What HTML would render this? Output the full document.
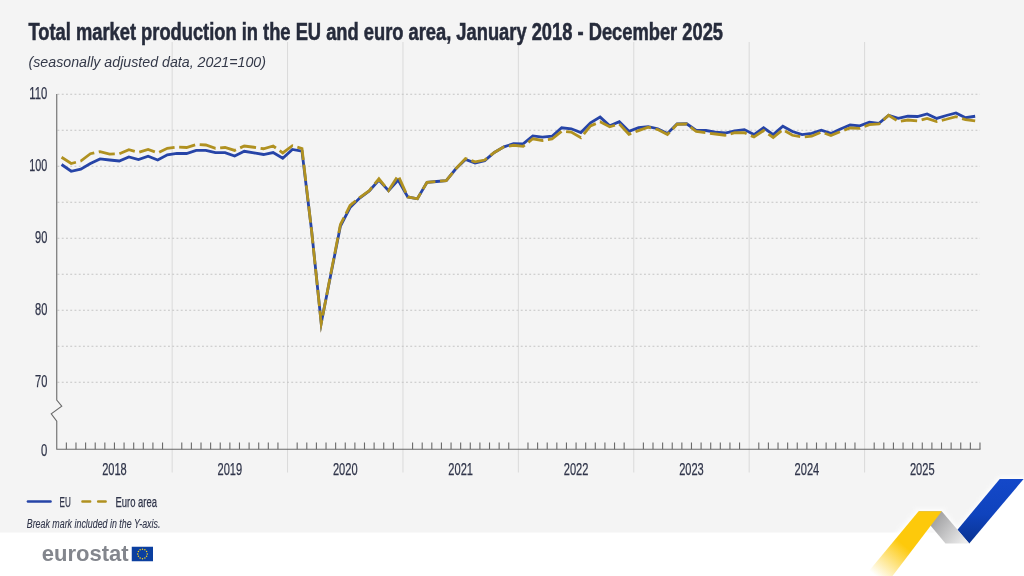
<!DOCTYPE html>
<html lang="en"><head><meta charset="utf-8">
<title>Total market production in the EU and euro area</title>
<style>
html,body{margin:0;padding:0;background:#fff;}
body{width:1024px;height:576px;overflow:hidden;}
svg{display:block;font-family:"Liberation Sans",sans-serif;}
</style></head><body>
<svg width="1024" height="576" viewBox="0 0 1024 576">
<defs>
<linearGradient id="gb" x1="0" y1="0" x2="0" y2="1"><stop offset="0" stop-color="#1448c9"/><stop offset="0.55" stop-color="#0f43bd"/><stop offset="1" stop-color="#0a3391"/></linearGradient>
<linearGradient id="gf" gradientUnits="userSpaceOnUse" x1="930" y1="520" x2="962" y2="545"><stop offset="0" stop-color="#9c9c9e"/><stop offset="1" stop-color="#ececec"/></linearGradient>
<linearGradient id="gy" gradientUnits="userSpaceOnUse" x1="905" y1="546" x2="878" y2="578"><stop offset="0" stop-color="#fdc90b"/><stop offset="1" stop-color="#fdc90b" stop-opacity="0"/></linearGradient>
</defs>
<rect x="0" y="0" width="1024" height="576" fill="#ffffff"/>
<polygon points="0,0 1024,0 1024,477.7 978.3,532.5 0,532.5" fill="#f4f4f4"/>

<g stroke="#dadada" stroke-width="1" fill="none">
<line x1="172.15" y1="42" x2="172.15" y2="472.5"/>
<line x1="287.56" y1="42" x2="287.56" y2="472.5"/>
<line x1="402.96" y1="42" x2="402.96" y2="472.5"/>
<line x1="518.37" y1="42" x2="518.37" y2="472.5"/>
<line x1="633.77" y1="42" x2="633.77" y2="472.5"/>
<line x1="749.17" y1="42" x2="749.17" y2="472.5"/>
<line x1="864.58" y1="42" x2="864.58" y2="472.5"/>
</g>
<g stroke="#c4c4c4" stroke-width="1" stroke-dasharray="1.9 2.35" fill="none">
<line x1="57.5" y1="94.25" x2="980" y2="94.25"/>
<line x1="57.5" y1="130.25" x2="980" y2="130.25"/>
<line x1="57.5" y1="166.25" x2="980" y2="166.25"/>
<line x1="57.5" y1="202.25" x2="980" y2="202.25"/>
<line x1="57.5" y1="238.25" x2="980" y2="238.25"/>
<line x1="57.5" y1="274.25" x2="980" y2="274.25"/>
<line x1="57.5" y1="310.25" x2="980" y2="310.25"/>
<line x1="57.5" y1="346.25" x2="980" y2="346.25"/>
<line x1="57.5" y1="382.25" x2="980" y2="382.25"/>
</g>
<g stroke="#6a6a6a" stroke-width="1.1" fill="none">
<path d="M56.75,94 V400 L61.75,406.25 L51.25,413.75 L56.75,421.25 V449.25 H980.5"/>
<path d="M66.37,442.5V449.25M75.98,442.5V449.25M85.60,442.5V449.25M95.22,442.5V449.25M104.84,442.5V449.25M114.45,442.5V449.25M124.07,442.5V449.25M133.69,442.5V449.25M143.30,442.5V449.25M152.92,442.5V449.25M162.54,442.5V449.25M181.77,442.5V449.25M191.39,442.5V449.25M201.01,442.5V449.25M210.62,442.5V449.25M220.24,442.5V449.25M229.86,442.5V449.25M239.47,442.5V449.25M249.09,442.5V449.25M258.71,442.5V449.25M268.32,442.5V449.25M277.94,442.5V449.25M297.18,442.5V449.25M306.79,442.5V449.25M316.41,442.5V449.25M326.03,442.5V449.25M335.64,442.5V449.25M345.26,442.5V449.25M354.88,442.5V449.25M364.49,442.5V449.25M374.11,442.5V449.25M383.73,442.5V449.25M393.35,442.5V449.25M412.58,442.5V449.25M422.20,442.5V449.25M431.81,442.5V449.25M441.43,442.5V449.25M451.05,442.5V449.25M460.66,442.5V449.25M470.28,442.5V449.25M479.90,442.5V449.25M489.52,442.5V449.25M499.13,442.5V449.25M508.75,442.5V449.25M527.98,442.5V449.25M537.60,442.5V449.25M547.22,442.5V449.25M556.83,442.5V449.25M566.45,442.5V449.25M576.07,442.5V449.25M585.69,442.5V449.25M595.30,442.5V449.25M604.92,442.5V449.25M614.54,442.5V449.25M624.15,442.5V449.25M643.39,442.5V449.25M653.00,442.5V449.25M662.62,442.5V449.25M672.24,442.5V449.25M681.86,442.5V449.25M691.47,442.5V449.25M701.09,442.5V449.25M710.71,442.5V449.25M720.32,442.5V449.25M729.94,442.5V449.25M739.56,442.5V449.25M758.79,442.5V449.25M768.41,442.5V449.25M778.03,442.5V449.25M787.64,442.5V449.25M797.26,442.5V449.25M806.88,442.5V449.25M816.49,442.5V449.25M826.11,442.5V449.25M835.73,442.5V449.25M845.34,442.5V449.25M854.96,442.5V449.25M874.20,442.5V449.25M883.81,442.5V449.25M893.43,442.5V449.25M903.05,442.5V449.25M912.66,442.5V449.25M922.28,442.5V449.25M931.90,442.5V449.25M941.51,442.5V449.25M951.13,442.5V449.25M960.75,442.5V449.25M970.37,442.5V449.25M979.98,442.5V449.25"/>
</g>
<polyline points="61.56,164.50 71.18,171.25 80.79,169.10 90.41,163.50 100.03,158.90 109.64,160.00 119.26,161.00 128.88,157.00 138.49,159.50 148.11,156.25 157.73,160.00 167.35,154.75 176.96,153.40 186.58,153.50 196.20,150.40 205.81,150.40 215.43,152.60 225.05,152.60 234.66,156.00 244.28,151.25 253.90,152.90 263.52,154.50 273.13,152.60 282.75,158.20 292.37,149.40 301.98,151.20 311.60,230.50 321.22,323.00 330.83,274.50 340.45,226.00 350.07,207.50 359.69,198.00 369.30,191.00 378.92,180.00 388.54,190.60 398.15,180.00 407.77,196.90 417.39,198.75 427.00,182.25 436.62,181.50 446.24,180.60 455.86,168.75 465.47,159.40 475.09,163.10 484.71,160.60 494.32,152.50 503.94,146.90 513.56,143.70 523.17,143.90 532.79,135.90 542.41,137.10 552.03,136.25 561.64,127.75 571.26,128.75 580.88,132.50 590.49,122.75 600.11,117.10 609.73,125.90 619.34,121.75 628.96,131.25 638.58,127.60 648.20,126.75 657.81,128.75 667.43,133.40 677.05,124.00 686.66,123.75 696.28,130.50 705.90,130.50 715.51,132.10 725.13,133.00 734.75,130.90 744.37,129.60 753.98,134.60 763.60,127.75 773.22,134.60 782.83,126.25 792.45,131.50 802.07,134.60 811.68,133.40 821.30,130.25 830.92,133.40 840.54,129.00 850.15,125.00 859.77,125.80 869.39,122.10 879.00,123.40 888.62,115.25 898.24,118.40 907.85,116.25 917.47,116.50 927.09,114.00 936.71,118.40 946.32,115.50 955.94,113.00 965.56,117.75 975.17,116.25" fill="none" stroke="#2644a7" stroke-width="2.8" stroke-linejoin="miter" stroke-miterlimit="10" stroke-linecap="butt"/>
<polyline points="61.56,157.25 71.18,163.50 80.79,161.00 90.41,153.75 100.03,151.60 109.64,154.10 119.26,153.75 128.88,149.75 138.49,152.25 148.11,149.50 157.73,152.90 167.35,148.25 176.96,147.00 186.58,147.50 196.20,144.50 205.81,145.00 215.43,148.25 225.05,147.50 234.66,150.40 244.28,146.00 253.90,147.25 263.52,148.75 273.13,146.00 282.75,152.90 292.37,145.70 301.98,148.50 311.60,231.00 321.22,323.50 330.83,273.50 340.45,224.50 350.07,205.50 359.69,197.50 369.30,190.60 378.92,178.75 388.54,190.60 398.15,175.60 407.77,196.90 417.39,198.75 427.00,182.25 436.62,181.50 446.24,180.60 455.86,168.75 465.47,158.50 475.09,161.90 484.71,160.00 494.32,152.50 503.94,146.90 513.56,145.25 523.17,146.40 532.79,138.75 542.41,140.50 552.03,139.00 561.64,131.25 571.26,132.10 580.88,137.75 590.49,125.90 600.11,121.75 609.73,126.75 619.34,124.00 628.96,134.25 638.58,130.60 648.20,127.10 657.81,129.60 667.43,134.60 677.05,124.25 686.66,124.00 696.28,131.50 705.90,132.75 715.51,134.00 725.13,135.25 734.75,132.75 744.37,132.75 753.98,137.00 763.60,130.50 773.22,137.50 782.83,129.60 792.45,135.25 802.07,137.10 811.68,136.25 821.30,132.10 830.92,135.50 840.54,131.50 850.15,128.00 859.77,128.40 869.39,124.60 879.00,124.00 888.62,115.25 898.24,121.50 907.85,120.00 917.47,120.90 927.09,118.40 936.71,121.50 946.32,119.25 955.94,116.75 965.56,119.60 975.17,120.90" fill="none" stroke="#b09120" stroke-width="2.8" stroke-linejoin="miter" stroke-miterlimit="10" stroke-linecap="butt" stroke-dasharray="16.4 4.6"/>
<g fill="#30354a" stroke="#30354a" stroke-width="0.25">
<text x="28.5" y="40" font-size="24" font-weight="bold" fill="#262b3b" stroke="#262b3b" stroke-width="0.55" textLength="694.5" lengthAdjust="spacingAndGlyphs">Total market production in the EU and euro area, January 2018 - December 2025</text>
<text x="28.5" y="66.75" font-size="15" font-style="italic" stroke="none" fill="#343949" textLength="237.5" lengthAdjust="spacingAndGlyphs">(seasonally adjusted data, 2021=100)</text>
<text x="29.30" y="99.15" font-size="16" textLength="18.0" lengthAdjust="spacingAndGlyphs">110</text>
<text x="29.30" y="171.15" font-size="16" textLength="18.0" lengthAdjust="spacingAndGlyphs">100</text>
<text x="35.00" y="243.15" font-size="16" textLength="12.3" lengthAdjust="spacingAndGlyphs">90</text>
<text x="35.00" y="315.15" font-size="16" textLength="12.3" lengthAdjust="spacingAndGlyphs">80</text>
<text x="35.00" y="387.15" font-size="16" textLength="12.3" lengthAdjust="spacingAndGlyphs">70</text>
<text x="41.00" y="455.70" font-size="16" textLength="6.3" lengthAdjust="spacingAndGlyphs">0</text>
<text x="102.15" y="474.9" font-size="16" textLength="24.6" lengthAdjust="spacingAndGlyphs">2018</text>
<text x="217.56" y="474.9" font-size="16" textLength="24.6" lengthAdjust="spacingAndGlyphs">2019</text>
<text x="332.96" y="474.9" font-size="16" textLength="24.6" lengthAdjust="spacingAndGlyphs">2020</text>
<text x="448.36" y="474.9" font-size="16" textLength="24.6" lengthAdjust="spacingAndGlyphs">2021</text>
<text x="563.77" y="474.9" font-size="16" textLength="24.6" lengthAdjust="spacingAndGlyphs">2022</text>
<text x="679.17" y="474.9" font-size="16" textLength="24.6" lengthAdjust="spacingAndGlyphs">2023</text>
<text x="794.58" y="474.9" font-size="16" textLength="24.6" lengthAdjust="spacingAndGlyphs">2024</text>
<text x="909.98" y="474.9" font-size="16" textLength="24.6" lengthAdjust="spacingAndGlyphs">2025</text>
<text x="59.5" y="507" font-size="14" textLength="11.25" lengthAdjust="spacingAndGlyphs">EU</text>
<text x="115.5" y="507" font-size="14" textLength="41.5" lengthAdjust="spacingAndGlyphs">Euro area</text>
<text x="26.75" y="527.5" font-size="12.5" font-style="italic" stroke-width="0.12" textLength="133.6" lengthAdjust="spacingAndGlyphs">Break mark included in the Y-axis.</text>
</g>
<line x1="27.9" y1="501.5" x2="50.6" y2="501.5" stroke="#2644a7" stroke-width="2.4" stroke-linecap="round"/>
<path d="M82.4,501.5H90.2M98.1,501.5H105.7" stroke="#b09120" stroke-width="2.4" stroke-linecap="round" fill="none"/>
<text x="41.7" y="561" font-size="21.5" font-weight="bold" fill="#83868d" textLength="87" lengthAdjust="spacingAndGlyphs">eurostat</text>
<rect x="131.75" y="546.75" width="21.25" height="14.5" fill="#0b3fa0"/>
<circle cx="142.50" cy="549.20" r="0.72" fill="#ffd617"/>
<circle cx="144.88" cy="549.84" r="0.72" fill="#ffd617"/>
<circle cx="146.61" cy="551.58" r="0.72" fill="#ffd617"/>
<circle cx="147.25" cy="553.95" r="0.72" fill="#ffd617"/>
<circle cx="146.61" cy="556.33" r="0.72" fill="#ffd617"/>
<circle cx="144.88" cy="558.06" r="0.72" fill="#ffd617"/>
<circle cx="142.50" cy="558.70" r="0.72" fill="#ffd617"/>
<circle cx="140.12" cy="558.06" r="0.72" fill="#ffd617"/>
<circle cx="138.39" cy="556.33" r="0.72" fill="#ffd617"/>
<circle cx="137.75" cy="553.95" r="0.72" fill="#ffd617"/>
<circle cx="138.39" cy="551.58" r="0.72" fill="#ffd617"/>
<circle cx="140.12" cy="549.84" r="0.72" fill="#ffd617"/>
<filter id="bl" x="-20%" y="-20%" width="140%" height="140%"><feGaussianBlur stdDeviation="2.2"/></filter>
<g filter="url(#bl)" fill="#ffffff" stroke="#ffffff" stroke-width="4" opacity="0.85"><polygon points="999.75,479 1023.6,479 969.25,543.4 957.5,529.7"/><polygon points="918.6,511.25 941.75,511.25 969.25,543.4 945.5,543.4"/><polygon points="918.6,511.25 941.75,511.25 916,545 888,545"/></g>
<polygon points="999.75,479 1023.6,479 969.25,543.4 957.5,529.7" fill="url(#gb)"/>
<polygon points="918.6,511.25 941.75,511.25 969.25,543.4 945.5,543.4" fill="url(#gf)"/>
<polygon points="918.6,511.25 941.75,511.25 892.5,576 864.75,576" fill="url(#gy)"/>
</svg></body></html>
